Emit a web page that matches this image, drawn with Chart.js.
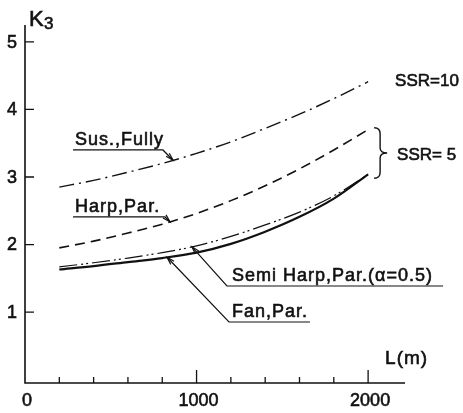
<!DOCTYPE html>
<html>
<head>
<meta charset="utf-8">
<script src="https://cdn.jsdelivr.net/npm/chart.js@4/dist/chart.umd.min.js"></script>
<style>
  html, body { margin: 0; padding: 0; background: #fff; }
  #wrap { width: 463px; height: 413px; }
</style>
</head>
<body>
<div id="wrap"><canvas id="c" width="463" height="413"></canvas></div>
<script>
// Span length L (m)
const spanLengths = [200, 400, 600, 800, 1000, 1200, 1400, 1600, 1800, 2000];

// Coefficient K3 for each cable system
const susFully    = [2.85, 2.95, 3.07, 3.20, 3.35, 3.52, 3.72, 3.93, 4.16, 4.41]; // SSR = 10
const harpPar     = [1.95, 2.05, 2.17, 2.30, 2.46, 2.65, 2.87, 3.12, 3.40, 3.70]; // SSR = 5
const semiHarpPar = [1.67, 1.73, 1.80, 1.88, 1.98, 2.12, 2.29, 2.48, 2.72, 3.04]; // SSR = 5
const fanPar      = [1.63, 1.68, 1.74, 1.80, 1.88, 2.01, 2.19, 2.41, 2.68, 3.04]; // SSR = 5

// Axis ticks
const xTickValues = [0, 1000, 2000];
const xTickLabels = ['0', '1000', '2000'];
const xMinorTicks = [200, 400, 600, 800, 1200, 1400, 1600, 1800];
const yTickValues = [1, 2, 3, 4, 5];
const yTickLabels = ['1', '2', '3', '4', '5'];

const INK = '#111';
const FONT = '"Liberation Sans", Arial, sans-serif';

// Linear lookup of a series at span L
function valueAt(series, L) {
  for (let i = 0; i < spanLengths.length - 1; i++) {
    const a = spanLengths[i], b = spanLengths[i + 1];
    if (L >= a && L <= b) {
      const t = (L - a) / (b - a);
      return series[i] + t * (series[i + 1] - series[i]);
    }
  }
  return series[series.length - 1];
}

// Labelled leader lines pointing at the curves (data units)
const callouts = [
  { text: 'Sus.,Fully', series: susFully, tipL: 863, textL: 292, lineK: 3.40, lineStartL: 280, lineEndL: 804, from: 'end' },
  { text: 'Harp,Par.', series: harpPar, tipL: 845, textL: 292, lineK: 2.408, lineStartL: 280, lineEndL: 816, from: 'end' },
  { text: 'Semi Harp,Par.(\u03B1=0.5)', series: semiHarpPar, tipL: 973, textL: 1207, lineK: 1.386, lineStartL: 1177, lineEndL: 2437, from: 'start' },
  { text: 'Fan,Par.', series: fanPar, tipL: 828, textL: 1207, lineK: 0.853, lineStartL: 1189, lineEndL: 1661, from: 'start' }
];

// Text with a hairline outline so the strokes read as heavy as drafting lettering
function inkText(ctx, s, x, y) {
  ctx.fillText(s, x, y);
  ctx.lineWidth = 0.6;
  ctx.strokeText(s, x, y);
}

function arrowHead(ctx, fx, fy, tx, ty) {
  const ang = Math.atan2(ty - fy, tx - fx);
  const len = 8, spread = 0.28;
  ctx.beginPath();
  ctx.moveTo(tx - len * Math.cos(ang - spread), ty - len * Math.sin(ang - spread));
  ctx.lineTo(tx, ty);
  ctx.lineTo(tx - len * Math.cos(ang + spread), ty - len * Math.sin(ang + spread));
  ctx.stroke();
}

const axesAndNotes = {
  id: 'axesAndNotes',
  afterDatasetsDraw(chart) {
    const ctx = chart.ctx;
    const xs = chart.scales.x, ys = chart.scales.y;
    const area = chart.chartArea;
    const x0 = xs.getPixelForValue(0);
    const yBase = area.bottom;

    ctx.save();
    ctx.strokeStyle = INK;
    ctx.fillStyle = INK;
    ctx.lineCap = 'butt';

    // axis lines
    ctx.lineWidth = 1.6;
    ctx.beginPath();
    ctx.moveTo(x0, area.top);
    ctx.lineTo(x0, yBase);
    ctx.lineTo(area.right, yBase);
    ctx.stroke();

    // inward ticks
    ctx.lineWidth = 1.3;
    ctx.beginPath();
    yTickValues.forEach(v => {
      const py = ys.getPixelForValue(v);
      ctx.moveTo(x0, py); ctx.lineTo(x0 + 9, py);
    });
    xMinorTicks.forEach(v => {
      const px = xs.getPixelForValue(v);
      ctx.moveTo(px, yBase); ctx.lineTo(px, yBase - 6);
    });
    xTickValues.filter(v => v > 0).forEach(v => {
      const px = xs.getPixelForValue(v);
      ctx.moveTo(px, yBase); ctx.lineTo(px, yBase - 13);
    });
    ctx.stroke();

    // tick labels
    ctx.font = '18px ' + FONT;
    ctx.textAlign = 'right';
    ctx.textBaseline = 'middle';
    yTickValues.forEach((v, i) => {
      inkText(ctx, yTickLabels[i], x0 - 8, ys.getPixelForValue(v) + 1);
    });
    ctx.textAlign = 'center';
    xTickValues.forEach((v, i) => {
      inkText(ctx, xTickLabels[i], xs.getPixelForValue(v) + 2, yBase + 18);
    });

    // axis titles
    ctx.textAlign = 'left';
    ctx.textBaseline = 'alphabetic';
    ctx.font = '22px ' + FONT;
    inkText(ctx, 'K', x0 + 4, 26);
    ctx.font = '17px ' + FONT;
    inkText(ctx, '3', x0 + 19, 29);
    ctx.font = '19px ' + FONT;
    ctx.letterSpacing = '1px';
    inkText(ctx, 'L(m)', xs.getPixelForValue(2000) + 17, 364);

    // callouts
    ctx.font = '18px ' + FONT;
    ctx.letterSpacing = '1px';
    callouts.forEach(c => {
      const ly = ys.getPixelForValue(c.lineK);
      const sx = xs.getPixelForValue(c.lineStartL);
      const ex = xs.getPixelForValue(c.lineEndL);
      const tx = xs.getPixelForValue(c.tipL);
      const ty = ys.getPixelForValue(valueAt(c.series, c.tipL));
      inkText(ctx, c.text, xs.getPixelForValue(c.textL), ly - 5);
      ctx.lineWidth = 1.2;
      ctx.beginPath();
      const fx = c.from === 'end' ? ex : sx;
      ctx.moveTo(c.from === 'end' ? sx : ex, ly);
      ctx.lineTo(fx, ly);
      ctx.lineTo(tx, ty);
      ctx.stroke();
      arrowHead(ctx, fx, ly, tx, ty);
    });

    // series-group labels at the right end
    const xEnd = xs.getPixelForValue(2000);
    const lastIdx = spanLengths.length - 1;
    ctx.textBaseline = 'middle';
    ctx.letterSpacing = '0px';
    ctx.font = '17px ' + FONT;
    inkText(ctx, 'SSR=10', xEnd + 27, ys.getPixelForValue(susFully[lastIdx]));

    // brace grouping the SSR = 5 curves
    const bTop = ys.getPixelForValue(harpPar[lastIdx]) - 2;
    const bBot = ys.getPixelForValue(fanPar[lastIdx]) + 4;
    const bMid = (bTop + bBot) / 2;
    const bl = xEnd + 6, bv = xEnd + 12, bt = xEnd + 19;
    ctx.lineWidth = 1.4;
    ctx.beginPath();
    ctx.moveTo(bl, bTop);
    ctx.quadraticCurveTo(bv, bTop, bv, bTop + 6);
    ctx.lineTo(bv, bMid - 5);
    ctx.quadraticCurveTo(bv, bMid, bt, bMid);
    ctx.quadraticCurveTo(bv, bMid, bv, bMid + 5);
    ctx.lineTo(bv, bBot - 6);
    ctx.quadraticCurveTo(bv, bBot, bl, bBot);
    ctx.stroke();
    inkText(ctx, 'SSR= 5', bt + 10, bMid + 2);

    ctx.restore();
  }
};

const lineStyle = (data, dash, width) => ({
  data,
  borderColor: INK,
  borderWidth: width,
  borderDash: dash,
  pointRadius: 0,
  fill: false,
  cubicInterpolationMode: 'monotone'
});

new Chart(document.getElementById('c'), {
  type: 'line',
  data: {
    labels: spanLengths,
    datasets: [
      { label: 'Sus.,Fully', ...lineStyle(susFully, [15, 5, 2, 5], 1.4) },
      { label: 'Harp,Par.', ...lineStyle(harpPar, [10, 6], 1.6) },
      { label: 'Semi Harp,Par.', ...lineStyle(semiHarpPar, [18, 4, 2, 3, 2, 4], 1.2) },
      { label: 'Fan,Par.', ...lineStyle(fanPar, [], 2.2) }
    ].map(d => ({ ...d, data: d.data.map((k, i) => ({ x: spanLengths[i], y: k })) }))
  },
  options: {
    responsive: false,
    animation: false,
    events: [],
    layout: { padding: { left: 25, right: 58, top: 25, bottom: 30 } },
    plugins: { legend: { display: false }, tooltip: { enabled: false } },
    scales: {
      x: { type: 'linear', min: 0, max: 2215, display: false },
      y: { type: 'linear', min: -0.05, max: 5.25, display: false }
    }
  },
  plugins: [axesAndNotes]
});
</script>
</body>
</html>
